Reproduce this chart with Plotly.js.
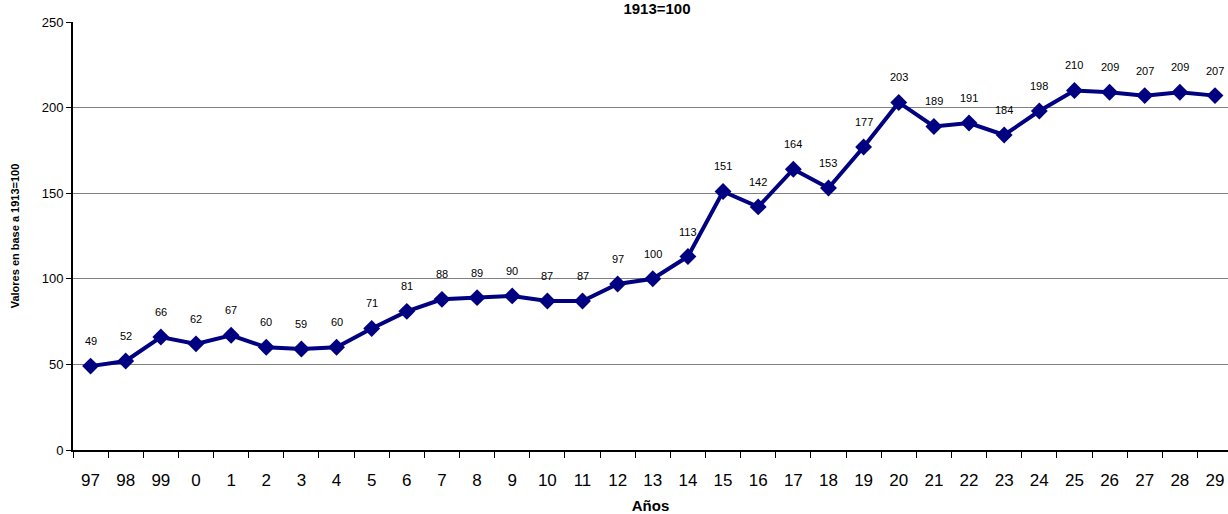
<!DOCTYPE html>
<html>
<head>
<meta charset="utf-8">
<script src="https://cdn.plot.ly/plotly-3.0.1.min.js"></script>
<style>html,body{margin:0;padding:0;background:#fff;overflow:hidden}</style>
</head>
<body>
<div id="chart" style="width:1228px;height:514px"></div>
<script>
const years = ["97","98","99","0","1","2","3","4","5","6","7","8","9","10","11","12","13","14","15","16","17","18","19","20","21","22","23","24","25","26","27","28","29"];
const values = [49,52,66,62,67,60,59,60,71,81,88,89,90,87,87,97,100,113,151,142,164,153,177,203,189,191,184,198,210,209,207,209,207];
const labels = values.map(v => String(v));

const trace = {
  x: years,
  y: values,
  type: "scatter",
  mode: "lines+markers",
  line: {color: "#000080", width: 4},
  marker: {symbol: "diamond", size: 13, color: "#000080"},
  hoverinfo: "x+y"
};

const annotations = years.map((c, i) => ({
  x: i, y: values[i], xref: "x", yref: "y",
  text: labels[i], showarrow: false, yshift: 25,
  font: {family: "Liberation Sans, Arial, sans-serif", size: 11, color: "#000"}
}));

const layout = {
  width: 1228, height: 514,
  margin: {l: 73, r: 0, t: 22, b: 64},
  paper_bgcolor: "#fff", plot_bgcolor: "#fff",
  showlegend: false,
  font: {family: "Liberation Sans, Arial, sans-serif", color: "#000"},
  title: {text: "<b>1913=100</b>", x: 0.535, xanchor: "center", yref: "container", y: 1, yanchor: "top",
          pad: {t: 3},
          font: {size: 15, family: "Liberation Sans, Arial, sans-serif", color: "#000"}},
  xaxis: {
    type: "category",
    range: [-0.5, 32.37],
    tickson: "boundaries",
    ticks: "outside", ticklen: 6, tickcolor: "#000", tickwidth: 1,
    ticklabelstandoff: 14,
    showline: true, linecolor: "#000", linewidth: 2,
    showgrid: false, zeroline: false,
    tickfont: {size: 17, color: "#000"},
    title: {text: "<b>Años</b>", font: {size: 15, color: "#000"}, standoff: 11}
  },
  yaxis: {
    range: [0, 250],
    tickvals: [0, 50, 100, 150, 200, 250],
    ticks: "outside", ticklen: 5, tickcolor: "#000", tickwidth: 1,
    showline: true, linecolor: "#000", linewidth: 2,
    showgrid: true, gridcolor: "#808080", gridwidth: 1,
    zeroline: false,
    tickfont: {size: 13, color: "#000"},
    title: {text: "<b>Valores en base a 1913=100</b>", font: {size: 11, color: "#000"}, standoff: 20}
  },
  annotations: annotations
};

Plotly.newPlot("chart", [trace], layout, {displayModeBar: false, staticPlot: true});
</script>
</body>
</html>
